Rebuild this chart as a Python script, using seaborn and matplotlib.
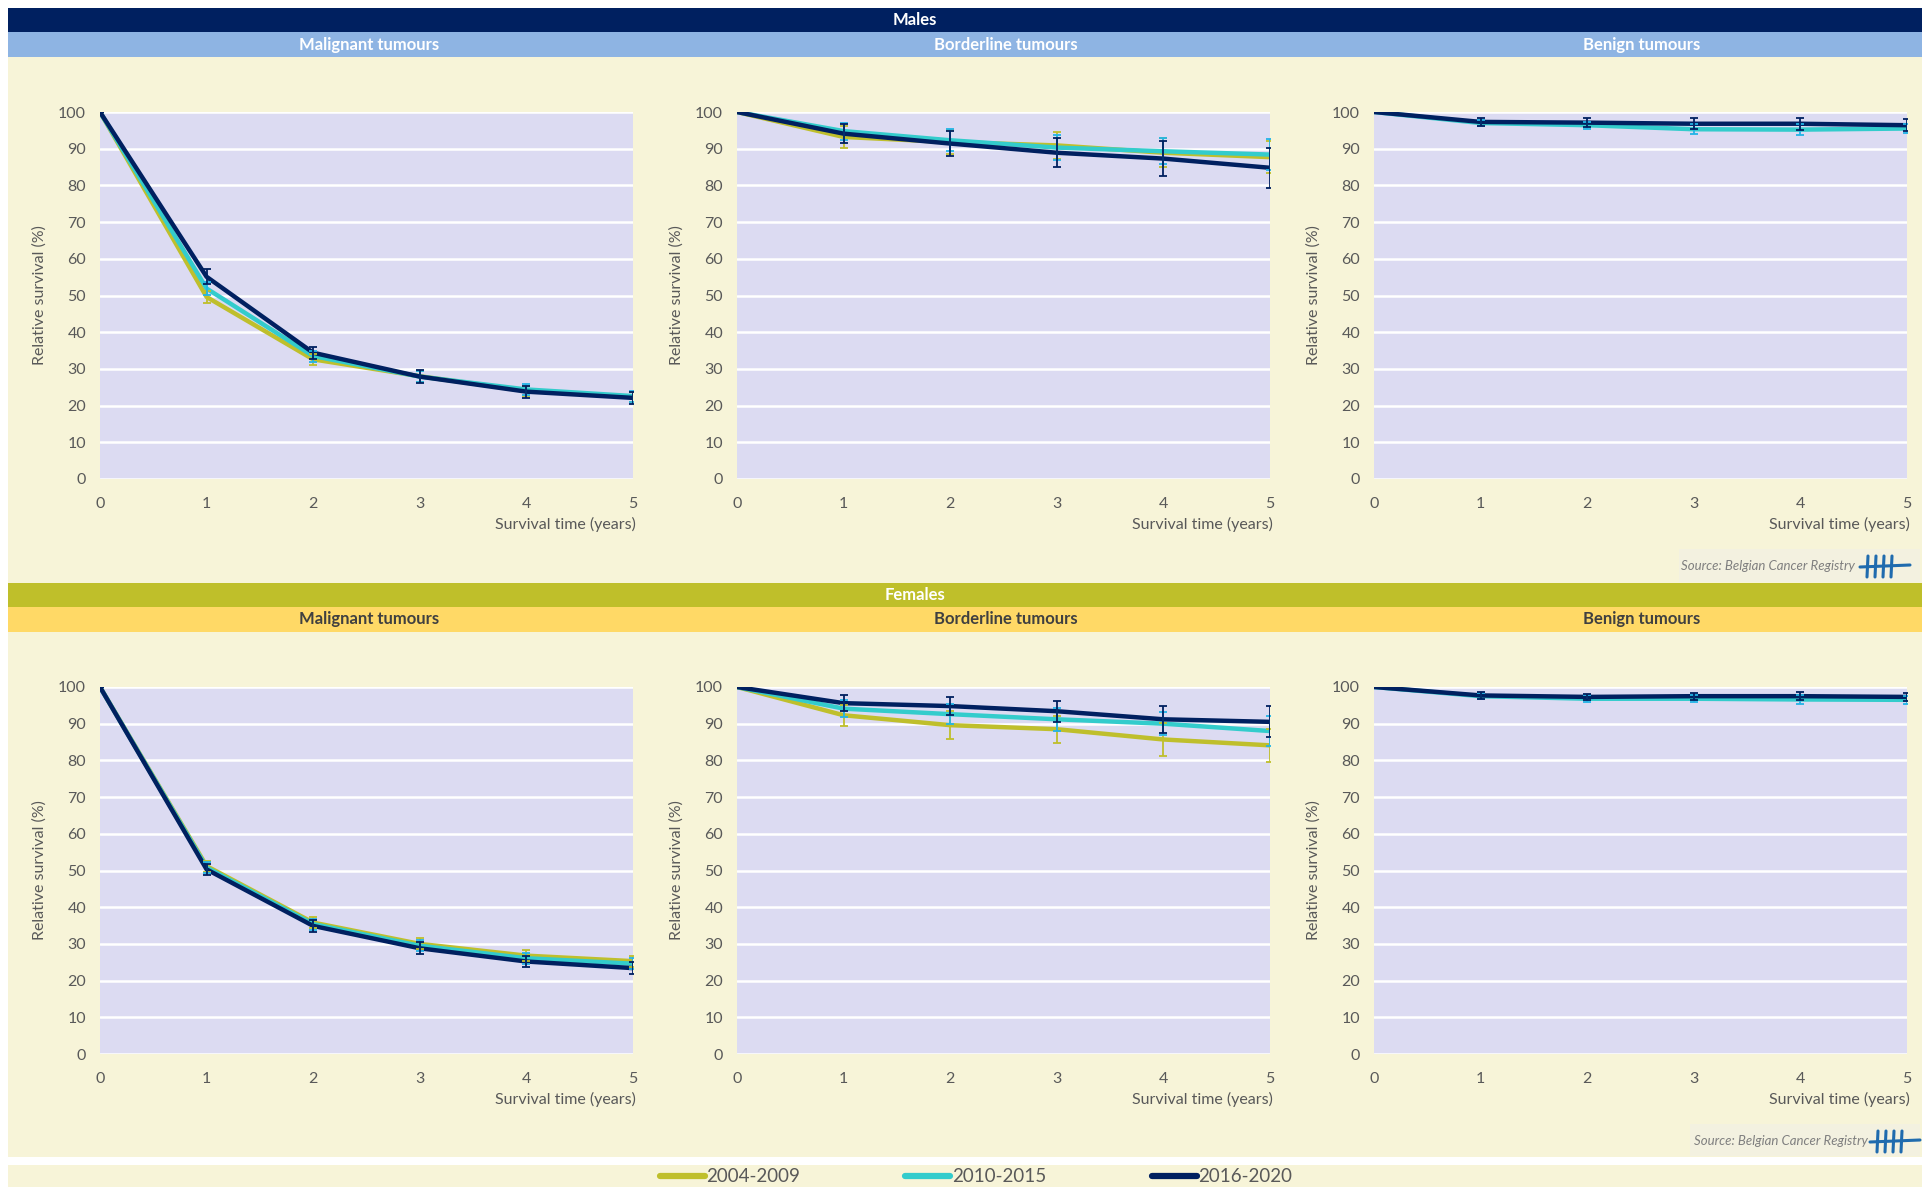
import numpy as np
import pandas as pd
import matplotlib
matplotlib.use('Agg')
import matplotlib.pyplot as plt
from matplotlib.patches import Rectangle
from matplotlib.lines import Line2D
import seaborn as sns

years = [0, 1, 2, 3, 4, 5]
periods = ['2004-2009', '2010-2015', '2016-2020']
line_colors = ['#BFBF2C', '#33CCCC', '#002060']
err_colors = ['#BFBF2C', '#22B4E6', '#002060']

# Males - malignant
m_mal_0409 = [100, 49.6, 32.6, 28.0, 24.0, 22.4]
m_mal_1015 = [100, 51.9, 33.5, 27.9, 24.4, 22.6]
m_mal_1620 = [100, 55.1, 34.4, 27.9, 23.8, 22.1]
m_mal_0409_ci = [0, 1.6, 1.5, 1.5, 1.4, 1.4]
m_mal_1015_ci = [0, 1.8, 1.5, 1.5, 1.5, 1.5]
m_mal_1620_ci = [0, 2.0, 1.6, 1.7, 1.6, 1.6]
# Males - borderline
m_bor_0409 = [100, 93.2, 91.8, 90.9, 88.9, 87.7]
m_bor_1015 = [100, 94.8, 92.3, 90.3, 89.3, 88.4]
m_bor_1620 = [100, 94.1, 91.4, 88.9, 87.3, 84.8]
m_bor_0409_ci = [0, 2.9, 3.2, 3.7, 4.0, 4.4]
m_bor_1015_ci = [0, 2.3, 3.0, 3.3, 3.6, 4.3]
m_bor_1620_ci = [0, 2.6, 3.3, 4.0, 4.7, 5.5]
# Males - benign (no 2004-2009 series)
m_ben_0409 = [np.nan] * 6
m_ben_1015 = [100, 97.0, 96.4, 95.3, 95.2, 95.5]
m_ben_1620 = [100, 97.3, 97.1, 96.8, 96.8, 96.4]
m_ben_0409_ci = [0] * 6
m_ben_1015_ci = [0, 0.9, 1.0, 1.3, 1.5, 1.3]
m_ben_1620_ci = [0, 1.0, 1.2, 1.5, 1.6, 1.7]

# Females - malignant
f_mal_0409 = [100, 51.2, 35.8, 30.0, 26.8, 25.3]
f_mal_1015 = [100, 50.8, 35.4, 29.5, 26.1, 24.6]
f_mal_1620 = [100, 50.3, 34.9, 28.8, 25.2, 23.4]
f_mal_0409_ci = [0, 1.5, 1.5, 1.5, 1.5, 1.5]
f_mal_1015_ci = [0, 1.5, 1.5, 1.5, 1.5, 1.5]
f_mal_1620_ci = [0, 1.6, 1.6, 1.6, 1.6, 1.6]
# Females - borderline
f_bor_0409 = [100, 92.3, 89.6, 88.5, 85.7, 84.1]
f_bor_1015 = [100, 94.1, 92.6, 91.2, 90.0, 88.0]
f_bor_1620 = [100, 95.6, 94.8, 93.4, 91.2, 90.5]
f_bor_0409_ci = [0, 2.9, 3.9, 3.7, 4.6, 4.5]
f_bor_1015_ci = [0, 2.4, 2.8, 3.2, 3.2, 4.0]
f_bor_1620_ci = [0, 2.2, 2.5, 2.9, 3.6, 4.2]
# Females - benign (no 2004-2009 series)
f_ben_0409 = [np.nan] * 6
f_ben_1015 = [100, 97.5, 96.8, 96.8, 96.6, 96.5]
f_ben_1620 = [100, 97.7, 97.3, 97.5, 97.5, 97.3]
f_ben_0409_ci = [0] * 6
f_ben_1015_ci = [0, 0.9, 0.9, 1.0, 1.1, 1.1]
f_ben_1620_ci = [0, 0.9, 0.9, 1.0, 1.1, 1.2]

panel_titles = ['Malignant tumours', 'Borderline tumours', 'Benign tumours']

males = [
    ([m_mal_0409, m_mal_1015, m_mal_1620], [m_mal_0409_ci, m_mal_1015_ci, m_mal_1620_ci]),
    ([m_bor_0409, m_bor_1015, m_bor_1620], [m_bor_0409_ci, m_bor_1015_ci, m_bor_1620_ci]),
    ([m_ben_0409, m_ben_1015, m_ben_1620], [m_ben_0409_ci, m_ben_1015_ci, m_ben_1620_ci]),
]
females = [
    ([f_mal_0409, f_mal_1015, f_mal_1620], [f_mal_0409_ci, f_mal_1015_ci, f_mal_1620_ci]),
    ([f_bor_0409, f_bor_1015, f_bor_1620], [f_bor_0409_ci, f_bor_1015_ci, f_bor_1620_ci]),
    ([f_ben_0409, f_ben_1015, f_ben_1620], [f_ben_0409_ci, f_ben_1015_ci, f_ben_1620_ci]),
]

sns.set_theme(style='white')
plt.rcParams['font.family'] = ['Lato', 'DejaVu Sans']

W, H = 1930, 1187
fig = plt.figure(figsize=(W / 100, H / 100), dpi=100)
fig.patch.set_facecolor('white')

CREAM = '#F7F4D8'
GREY = '#595959'
FS = 11.5


def box(x0, y0, x1, y1, color):
    fig.add_artist(Rectangle((x0 / W, 1 - y1 / H), (x1 - x0) / W, (y1 - y0) / H,
                             transform=fig.transFigure, facecolor=color,
                             edgecolor='none', zorder=-5))


def ftext(x, y, s, **kw):
    fig.text(x / W, 1 - y / H, s, ha='center', va='center', **kw)


def logo(x0, yc):
    c = '#1F6BAE'
    for i in range(4):
        xs = x0 + 8 + i * 8
        fig.add_artist(Line2D([xs / W, (xs - 1) / W], [1 - (yc - 10) / H, 1 - (yc + 11) / H],
                              transform=fig.transFigure, color=c, lw=2.2))
    fig.add_artist(Line2D([x0 / W, (x0 + 50) / W], [1 - (yc + 1) / H, 1 - (yc - 1) / H],
                          transform=fig.transFigure, color=c, lw=2.2))


def panel(ax, series, cis):
    df = pd.DataFrame({
        'year': years * 3,
        'surv': [v for s in series for v in s],
        'period': [p for p in periods for _ in years],
    })
    sns.lineplot(data=df, x='year', y='surv', hue='period', hue_order=periods,
                 palette=line_colors, linewidth=3.2, ax=ax, legend=False)
    for s, ci, c in zip(series, cis, err_colors):
        ax.errorbar(years, s, yerr=ci, fmt='none', ecolor=c, elinewidth=1.3,
                    capsize=3, capthick=1.3, zorder=4)
    ax.set_facecolor('#DCDBF2')
    ax.set_xlim(0, 5)
    ax.set_ylim(0, 100)
    ax.set_xticks(range(6))
    ax.set_yticks(range(0, 101, 10))
    ax.grid(axis='y', color='white', lw=1.8)
    ax.grid(axis='x', visible=False)
    for sp in ax.spines.values():
        sp.set_visible(False)
    ax.tick_params(length=0, colors=GREY, labelsize=FS)
    ax.tick_params(axis='x', pad=13)
    ax.tick_params(axis='y', pad=10)
    ax.set_ylabel('Relative survival (%)', color=GREY, fontsize=FS, va='center')
    ax.yaxis.set_label_coords(-0.113, 0.5)
    ax.set_xlabel('Survival time (years)', color=GREY, fontsize=FS, ha='right', va='center')
    ax.xaxis.set_label_coords(1.005, -0.125)


# background bands
box(8, 8, 1922, 32, '#002060')
box(8, 32, 1922, 57, '#8EB4E3')
box(8, 57, 1922, 583, CREAM)
box(8, 583, 1922, 607, '#BFBF2A')
box(8, 607, 1922, 632, '#FFD966')
box(8, 632, 1922, 1157, CREAM)
box(8, 1165, 1922, 1187, CREAM)
box(1679, 549, 1920, 582, '#F3F1E0')
box(1690, 1124, 1920, 1156, '#F3F1E0')

ftext(915, 20, 'Males', color='white', fontsize=12, fontweight='bold')
ftext(915, 595, 'Females', color='white', fontsize=12, fontweight='bold')
title_x = [369, 1006, 1642]
for x, t in zip(title_x, panel_titles):
    ftext(x, 45, t, color='white', fontsize=12, fontweight='bold')
    ftext(x, 619, t, color='#404040', fontsize=12, fontweight='bold')

ftext(1768, 566, 'Source: Belgian Cancer Registry', color='#7F7F7F', fontsize=9.5, style='italic')
ftext(1781, 1141, 'Source: Belgian Cancer Registry', color='#7F7F7F', fontsize=9.5, style='italic')
logo(1860, 566)
logo(1870, 1141)

ax_left = [100, 737, 1374]
ax_w = 533
rows = [(112, 479, males), (687, 1054, females)]
for top, bot, data in rows:
    for x0, (series, cis) in zip(ax_left, data):
        ax = fig.add_axes([x0 / W, 1 - bot / H, ax_w / W, (bot - top) / H])
        panel(ax, series, cis)

handles = [Line2D([0], [0], color=c, lw=4.5, solid_capstyle='round') for c in line_colors]
fig.legend(handles, periods, loc='center', bbox_to_anchor=(976 / W, 1 - 1177 / H), ncol=3,
           frameon=False, fontsize=13.5, handlelength=2.4, handletextpad=0.1,
           columnspacing=5.6, labelcolor=GREY, borderpad=0)

fig.savefig('out.png', dpi=100, facecolor='white')
